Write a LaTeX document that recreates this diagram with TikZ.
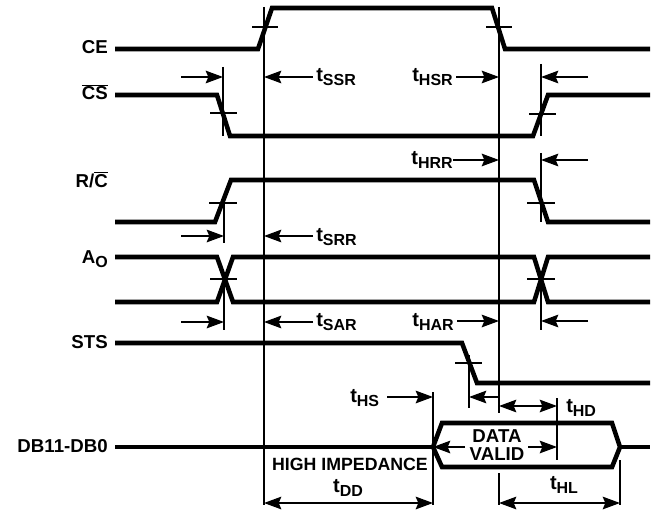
\documentclass[tikz,border=0pt]{standalone}
\usepackage{fontspec}
\setmainfont{Liberation Sans}
\usetikzlibrary{calc}
\usetikzlibrary{arrows.meta}
\newcommand{\tsub}[2]{#1\raisebox{-3pt}{\fontsize{12}{12}\selectfont #2}}

\begin{document}
\begin{tikzpicture}[x=0.75pt,y=-0.75pt,
		sig/.style={line width=3.4pt},
		guide/.style={line width=1pt},
		dim/.style={line width=1pt,-{Stealth[length=13pt,width=9.5pt,inset=2pt]}},
		ddim/.style={line width=1pt,{Stealth[length=13pt,width=9.5pt,inset=2pt]}-{Stealth[length=13pt,width=9.5pt,inset=2pt]}},
		siglab/.style={font=\fontsize{14}{16}\selectfont\bfseries,inner sep=0pt,anchor=base east},
		tlab/.style={font=\fontsize{15}{17}\selectfont\bfseries,inner sep=0pt}]
			\useasboundingbox (0,0) rectangle (655,513);
			\draw[sig] (115,49) -- (258,49) -- (272,8) -- (492,8) -- (505,49) -- (650,49);
			\draw[sig] (115,95) -- (217,95) -- (230,136) -- (533,136) -- (548,95) -- (650,95);
			\draw[sig] (115,222) -- (215,222) -- (231,180) -- (534,180) -- (548,222) -- (650,222);
			\draw[sig] (115,257) -- (217,257) -- (233,302) -- (534,302) -- (548,257) -- (650,257);
			\draw[sig] (115,302) -- (217,302) -- (233,257) -- (534,257) -- (548,302) -- (650,302);
			\draw[sig] (115,343) -- (462,343) -- (477,383) -- (650,383);
			\draw[sig] (115,447) -- (433,447) (620,447) -- (650,447);
			\draw[sig] (433,447) -- (442,423) -- (612,423) -- (620,447) -- (612,467) -- (442,467) -- cycle;
			\draw[guide] (264,7) -- (264,505);
			\draw[guide] (499,7) -- (499,413) (499,473) -- (499,505);
			\draw[guide] (252,27) -- (278,27) (486,27) -- (512,27);
			\draw[guide] (223,67) -- (223,136) (210,113) -- (237,113) (541,64) -- (541,136) (529,114) -- (556,114);
			\draw[guide] (224,203) -- (224,243) (209,203) -- (237,203) (541,153) -- (541,222) (527,203) -- (555,203);
			\draw[guide] (224,279) -- (224,330) (210,279) -- (237,279) (541,279) -- (541,330) (527,279) -- (555,279);
			\draw[guide] (469,355) -- (469,408) (455,363) -- (482,363);
			\draw[guide] (433,392) -- (433,505) (557,398) -- (557,460) (620,460) -- (620,505);
			\draw[dim] (181,77) -- (223,77);
			\draw[dim] (313,77) -- (264,77);
			\draw[dim] (456,77) -- (499,77);
			\draw[dim] (588,77) -- (541,77);
			\draw[dim] (453,160) -- (499,160);
			\draw[dim] (588,160) -- (541,160);
			\draw[dim] (181,236) -- (224,236);
			\draw[dim] (313,236) -- (264,236);
			\draw[dim] (181,322) -- (224,322);
			\draw[dim] (313,322) -- (264,322);
			\draw[dim] (457,321) -- (499,321);
			\draw[dim] (588,321) -- (541,321);
			\draw[dim] (387,397) -- (433,397);
			\draw[dim] (499,397) -- (469,397);
			\draw[ddim] (499,406) -- (557,406);
			\draw[dim] (465,447) -- (433,447);
			\draw[dim] (528,447) -- (557,447);
			\draw[ddim] (264,503) -- (433,503);
			\draw[ddim] (499,503) -- (620,503);
			\node[siglab] (ce) at (108,54) {CE};
			\node[siglab] (cs) at (108,100) {$\overline{\hbox{CS}}$};
			\node[siglab] (rc) at (108,187) {R/$\overline{\hbox{C}}$};
			\node[siglab] (ao) at (108,263) {\tsub{A}{O}};
			\node[siglab] (sts) at (108,348) {STS};
			\node[siglab] (db) at (108,452) {DB11-DB0};
			\node[tlab,anchor=base west] (tssr) at (316,82) {\tsub{t}{SSR}};
			\node[tlab,anchor=base east] (thsr) at (453,82) {\tsub{t}{HSR}};
			\node[tlab,anchor=base east] (thrr) at (453,165) {\tsub{t}{HRR}};
			\node[tlab,anchor=base west] (tsrr) at (316,241) {\tsub{t}{SRR}};
			\node[tlab,anchor=base west] (tsar) at (316,326) {\tsub{t}{SAR}};
			\node[tlab,anchor=base east] (thar) at (454,326) {\tsub{t}{HAR}};
			\node[tlab,anchor=base west] (ths) at (350,402) {\tsub{t}{HS}};
			\node[tlab,anchor=base west] (thd) at (566,412) {\tsub{t}{HD}};
			\node[tlab,anchor=base] (tdd) at (348,492) {\tsub{t}{DD}};
			\node[tlab,anchor=base] (thl) at (564,489) {\tsub{t}{HL}};
			\node[siglab,anchor=base,font=\fontsize{13.3}{15}\selectfont\bfseries] (hiz) at (350,470) {HIGH IMPEDANCE};
			\node[siglab,anchor=center,align=center,font=\fontsize{14}{14}\selectfont\bfseries] (dv) at (497,445) {DATA\\VALID};
		\end{tikzpicture}
\end{document}
